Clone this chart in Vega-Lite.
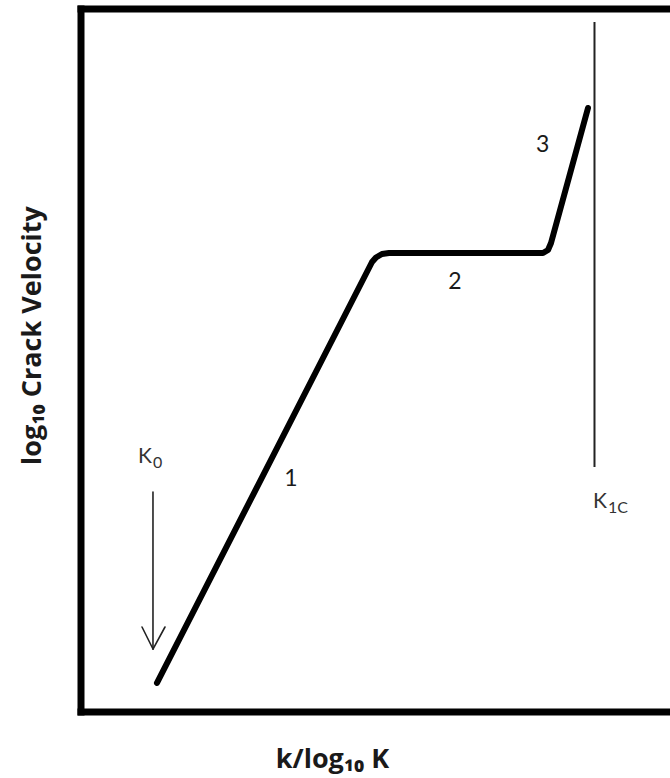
{
  "$schema": "https://vega.github.io/schema/vega-lite/v6.json",
  "autosize": {"type": "none"},
  "width": 589,
  "height": 703,
  "padding": {"left": 81, "top": 9, "right": 0, "bottom": 66},
  "background": "white",
  "config": {"view": {"stroke": null}},
  "datasets": {
    "frame": [
      {"x": 0, "y": 100, "x2": 100, "y2": 100},
      {"x": 0, "y": 0, "x2": 100, "y2": 0},
      {"x": 0, "y": 0, "x2": 0, "y2": 100}
    ],
    "curve": [
      {"step": 1, "k": 12.9, "v": 4.13},
      {"step": 2, "k": 49.41, "v": 64.01},
      {"step": 3, "k": 50.08, "v": 64.65},
      {"step": 4, "k": 51.1, "v": 65.15},
      {"step": 5, "k": 52.29, "v": 65.29},
      {"step": 6, "k": 78.44, "v": 65.29},
      {"step": 7, "k": 79.29, "v": 65.72},
      {"step": 8, "k": 79.8, "v": 66.71},
      {"step": 9, "k": 86.08, "v": 85.92}
    ],
    "k1c": [
      {"k": 87.18, "v": 34.85, "v2": 98.15}
    ],
    "arrow": [
      {"part": "shaft", "k": 12.22, "v": 31.29, "k2": 12.22, "v2": 8.96},
      {"part": "head-left", "k": 10.36, "v": 12.09, "k2": 12.22, "v2": 8.96},
      {"part": "head-right", "k": 14.26, "v": 12.09, "k2": 12.22, "v2": 8.96}
    ],
    "regions": [
      {"label": "1", "k": 35.65, "v": 33.14},
      {"label": "2", "k": 63.5, "v": 61.2},
      {"label": "3", "k": 78.4, "v": 80.65}
    ],
    "symbols": [
      {"main": "K", "sub": "0", "k": 9.68, "v": 36.27},
      {"main": "K", "sub": "1C", "k": 86.93, "v": 29.87}
    ]
  },
  "layer": [
    {
      "data": {"name": "frame"},
      "mark": {"type": "rule", "color": "black", "strokeWidth": 7, "strokeCap": "square"},
      "encoding": {
        "x": {
          "field": "x", "type": "quantitative",
          "scale": {"domain": [0, 100], "nice": false, "zero": false},
          "axis": {
            "domain": false, "ticks": false, "labels": false, "grid": false,
            "title": "k/log₁₀ K",
            "titleFont": "Open Sans", "titleFontSize": 27, "titleFontWeight": "bold",
            "titleColor": "#1a1a1a", "titleBaseline": "alphabetic",
            "titlePadding": 55, "titleX": 251
          }
        },
        "y": {
          "field": "y", "type": "quantitative",
          "scale": {"domain": [0, 100], "nice": false, "zero": false},
          "axis": {
            "domain": false, "ticks": false, "labels": false, "grid": false,
            "title": "log₁₀ Crack Velocity",
            "titleFont": "Open Sans", "titleFontSize": 27, "titleFontWeight": "bold",
            "titleColor": "#1a1a1a", "titleBaseline": "alphabetic",
            "titlePadding": 41, "titleY": 326
          }
        },
        "x2": {"field": "x2"},
        "y2": {"field": "y2"}
      }
    },
    {
      "data": {"name": "curve"},
      "mark": {"type": "line", "color": "black", "strokeWidth": 6, "strokeJoin": "round", "strokeCap": "round"},
      "encoding": {
        "x": {"field": "k", "type": "quantitative"},
        "y": {"field": "v", "type": "quantitative"},
        "order": {"field": "step", "type": "quantitative"}
      }
    },
    {
      "data": {"name": "k1c"},
      "mark": {"type": "rule", "color": "#222222", "strokeWidth": 2},
      "encoding": {
        "x": {"field": "k", "type": "quantitative"},
        "y": {"field": "v", "type": "quantitative"},
        "y2": {"field": "v2"}
      }
    },
    {
      "data": {"name": "arrow"},
      "mark": {"type": "rule", "color": "#222222", "strokeWidth": 1.6, "strokeCap": "round"},
      "encoding": {
        "x": {"field": "k", "type": "quantitative"},
        "y": {"field": "v", "type": "quantitative"},
        "x2": {"field": "k2"},
        "y2": {"field": "v2"}
      }
    },
    {
      "data": {"name": "regions"},
      "mark": {"type": "text", "font": "Lato", "fontSize": 23, "color": "#1a1a1a", "align": "center", "baseline": "middle"},
      "encoding": {
        "x": {"field": "k", "type": "quantitative"},
        "y": {"field": "v", "type": "quantitative"},
        "text": {"field": "label"}
      }
    },
    {
      "data": {"name": "symbols"},
      "mark": {"type": "text", "font": "Lato", "fontSize": 21, "color": "#333333", "align": "left", "baseline": "middle"},
      "encoding": {
        "x": {"field": "k", "type": "quantitative"},
        "y": {"field": "v", "type": "quantitative"},
        "text": {"field": "main"}
      }
    },
    {
      "data": {"name": "symbols"},
      "mark": {"type": "text", "font": "Lato", "fontSize": 16, "color": "#333333", "align": "left", "baseline": "middle", "dx": 15, "dy": 6},
      "encoding": {
        "x": {"field": "k", "type": "quantitative"},
        "y": {"field": "v", "type": "quantitative"},
        "text": {"field": "sub"}
      }
    }
  ]
}
